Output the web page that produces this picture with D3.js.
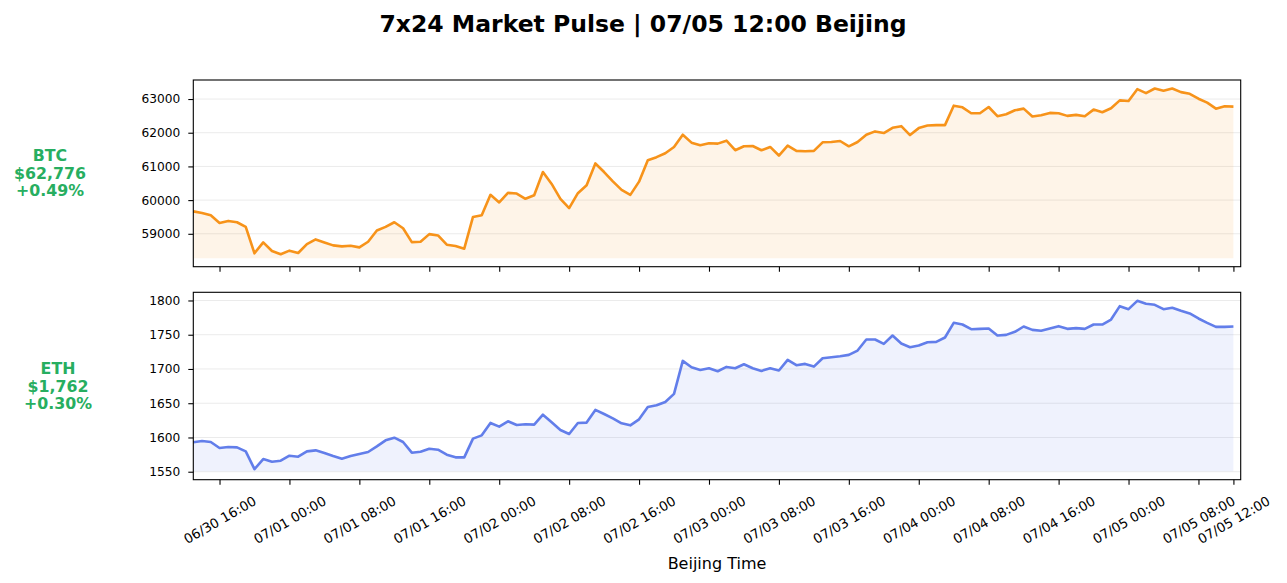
<!DOCTYPE html>
<html>
<head>
<meta charset="utf-8">
<script src="https://cdn.jsdelivr.net/npm/d3@7"></script>
<style>
  html, body { margin: 0; padding: 0; background: #fff; }
  svg { display: block; font-family: "DejaVu Sans", sans-serif; }
</style>
</head>
<body>
<div id="chart"></div>
<script>
// hourly closes, Beijing time, 06/30 13:00 -> 07/05 12:00
const startTime = new Date(Date.UTC(2023, 5, 30, 13));
const endTime = new Date(Date.UTC(2023, 6, 5, 12));

const btcValues = [
  59666, 59617, 59548, 59323, 59382, 59342, 59205, 58421, 58744, 58490,
  58392, 58500, 58431, 58695, 58833, 58744, 58656, 58627, 58646, 58597,
  58764, 59097, 59205, 59342, 59166, 58754, 58764, 58990, 58950, 58676,
  58640, 58558, 59500, 59548, 60156, 59931, 60215, 60195, 60039, 60146,
  60833, 60480, 60039, 59764, 60205, 60440, 61088, 60833, 60558, 60303,
  60156, 60548, 61186, 61274, 61391, 61578, 61940, 61705, 61627, 61686,
  61676, 61764, 61480, 61597, 61607, 61480, 61578, 61323, 61617, 61460,
  61450, 61460, 61715, 61725, 61754, 61597, 61725, 61940, 62039, 61990,
  62146, 62195, 61931, 62137, 62215, 62225, 62225, 62803, 62754, 62578,
  62578, 62764, 62490, 62548, 62666, 62715, 62480, 62519, 62588, 62578,
  62500, 62529, 62490, 62686, 62607, 62725, 62960, 62940, 63293, 63176,
  63313, 63244, 63313, 63205, 63156, 63009, 62892, 62715, 62784, 62776
];

const ethValues = [
  1592.9, 1594.8, 1593.4, 1584.6, 1586.1, 1585.6, 1579.7, 1553.9, 1568.5, 1564.6,
  1566.1, 1573.4, 1571.9, 1579.7, 1581.2, 1577.3, 1572.9, 1569.0, 1572.9, 1575.8,
  1578.8, 1587.0, 1595.8, 1599.7, 1593.4, 1577.8, 1579.2, 1583.6, 1582.2, 1574.9,
  1571.0, 1571.0, 1598.3, 1603.1, 1621.2, 1615.8, 1623.6, 1618.2, 1619.2, 1618.7,
  1633.3, 1622.1, 1610.9, 1605.1, 1621.2, 1621.7, 1640.2, 1634.3, 1628.0, 1620.7,
  1617.7, 1626.5, 1644.6, 1647.0, 1651.9, 1663.6, 1711.8, 1702.5, 1698.6, 1701.1,
  1696.7, 1703.0, 1701.1, 1706.9, 1701.1, 1697.2, 1701.1, 1697.7, 1713.3, 1705.5,
  1707.4, 1703.5, 1715.7, 1717.2, 1718.6, 1720.6, 1726.9, 1743.0, 1743.0, 1736.7,
  1748.8, 1737.1, 1731.8, 1734.2, 1739.1, 1739.6, 1745.9, 1767.4, 1764.9, 1758.1,
  1758.6, 1759.1, 1748.8, 1749.8, 1754.2, 1762.0, 1757.1, 1755.7, 1759.1, 1762.5,
  1758.6, 1759.6, 1758.6, 1764.9, 1764.9, 1772.2, 1791.7, 1787.3, 1799.5, 1795.1,
  1793.7, 1787.3, 1789.3, 1784.9, 1781.0, 1773.7, 1767.4, 1761.5, 1761.5, 1762.0
];

const btcTicks = [59000, 60000, 61000, 62000, 63000];
const ethTicks = [1550, 1600, 1650, 1700, 1750, 1800];

const assets = [
  { name: 'BTC', price: '$62,776', change: '+0.49%', color: '#f7931a', values: btcValues, ticks: btcTicks },
  { name: 'ETH', price: '$1,762', change: '+0.30%', color: '#627eea', values: ethValues, ticks: ethTicks }
];

const titleText = '7x24 Market Pulse | 07/05 12:00 Beijing';
const xLabel = 'Beijing Time';

const width = 1287;
const height = 583;
const left = 193.3, right = 1240.7;
const panels = [{ top: 80, bottom: 266.7 }, { top: 292.3, bottom: 479.7 }];
const upGreen = '#27ae60';

const times = d3.utcHour.range(startTime, d3.utcHour.offset(endTime, 1));

const svg = d3.select('#chart')
  .append('svg')
  .attr('width', width)
  .attr('height', height);

// shared time axis, a little slack past the last candle
const x = d3.scaleUtc()
  .domain([startTime, d3.utcMinute.offset(endTime, 50)])
  .range([left, right]);

const xTicks = d3.utcHour.every(8).range(startTime, endTime).concat([endTime]);
const fmt = d3.utcFormat('%m/%d %H:%M');

svg.append('text')
  .attr('x', 643)
  .attr('y', 24)
  .attr('text-anchor', 'middle')
  .attr('dominant-baseline', 'central')
  .attr('font-size', 23.5)
  .attr('font-weight', 'bold')
  .text(titleText);

assets.forEach((a, k) => {
  const p = panels[k];
  const data = a.values.map((v, i) => ({ t: times[i], v }));

  const base = d3.min(a.values) * 0.998;
  const hi = d3.max(a.values);
  const pad = (hi - base) * 0.05;
  const y = d3.scaleLinear()
    .domain([base - pad, hi + pad])
    .range([p.bottom, p.top]);

  const g = svg.append('g');

  // Grid
  g.append('g')
    .selectAll('line')
    .data(a.ticks)
    .join('line')
    .attr('x1', left)
    .attr('x2', right)
    .attr('y1', d => y(d))
    .attr('y2', d => y(d))
    .attr('stroke', '#ebebeb')
    .attr('stroke-width', 1);

  // Area + line
  const area = d3.area()
    .x(d => x(d.t))
    .y0(y(base))
    .y1(d => y(d.v));
  g.append('path')
    .datum(data)
    .attr('d', area)
    .attr('fill', a.color)
    .attr('fill-opacity', 0.1);

  const line = d3.line()
    .x(d => x(d.t))
    .y(d => y(d.v));
  g.append('path')
    .datum(data)
    .attr('d', line)
    .attr('fill', 'none')
    .attr('stroke', a.color)
    .attr('stroke-width', 2.6)
    .attr('stroke-linejoin', 'round');

  // Axes
  const yAxis = d3.axisLeft(y)
    .tickValues(a.ticks)
    .tickSize(5)
    .tickPadding(8)
    .tickFormat(d3.format('d'));
  g.append('g')
    .attr('transform', `translate(${left},0)`)
    .call(yAxis)
    .call(s => s.select('.domain').remove())
    .call(s => s.selectAll('text').attr('font-size', 12.2).attr('fill', '#000').attr('font-family', '"DejaVu Sans", sans-serif'))
    .call(s => s.selectAll('line').attr('stroke', '#000').attr('stroke-width', 1.1));

  const xAxis = d3.axisBottom(x)
    .tickValues(xTicks)
    .tickSize(5)
    .tickFormat(k === 1 ? fmt : () => '');
  const xg = g.append('g')
    .attr('transform', `translate(0,${p.bottom})`)
    .call(xAxis)
    .call(s => s.select('.domain').remove())
    .call(s => s.selectAll('line').attr('stroke', '#000').attr('stroke-width', 1.1));

  if (k === 1) {
    xg.selectAll('text')
      .attr('font-size', 13.3)
      .attr('fill', '#000')
      .attr('font-family', '"DejaVu Sans", sans-serif')
      .attr('text-anchor', 'middle')
      .attr('dominant-baseline', 'central')
      .attr('y', 0)
      .attr('dy', null)
      .attr('transform', 'translate(0,40.5) rotate(-30)');
  }

  // Frame
  g.append('rect')
    .attr('x', left)
    .attr('y', p.top)
    .attr('width', right - left)
    .attr('height', p.bottom - p.top)
    .attr('fill', 'none')
    .attr('stroke', '#000')
    .attr('stroke-width', 1.1);

  // Side label
  const cy = (p.top + p.bottom) / 2;
  const lx = k === 0 ? 50 : 58;
  const label = g.append('text')
    .attr('x', lx)
    .attr('y', cy)
    .attr('text-anchor', 'middle')
    .attr('font-size', 15.8)
    .attr('font-weight', 'bold')
    .attr('fill', upGreen);
  [a.name, a.price, a.change].forEach((s, j) => {
    label.append('tspan')
      .attr('x', lx)
      .attr('y', cy + (j - 1) * 17.5)
      .attr('dominant-baseline', 'central')
      .text(s);
  });
});

svg.append('text')
  .attr('x', 717)
  .attr('y', 563)
  .attr('text-anchor', 'middle')
  .attr('dominant-baseline', 'central')
  .attr('font-size', 16)
  .text(xLabel);
</script>
</body>
</html>
